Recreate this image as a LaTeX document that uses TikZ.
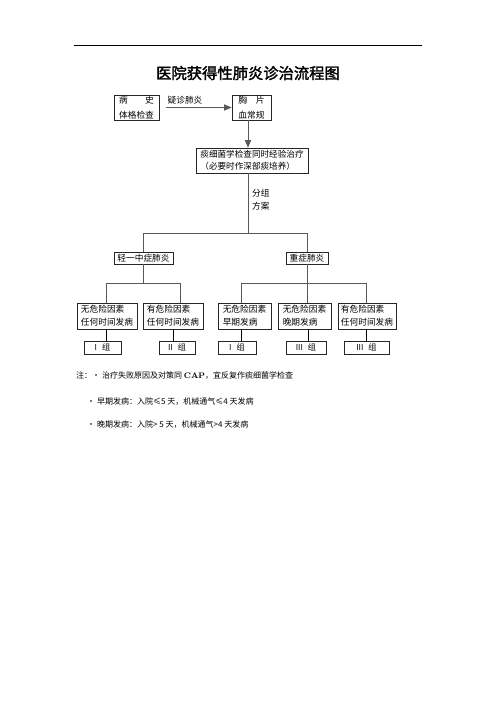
\documentclass[tikz,border=0pt]{standalone}
\usepackage{fontspec}
\newfontfamily\cjk{Noto Sans CJK SC}
\newfontfamily\cjkbf[FakeBold=2]{Noto Sans CJK SC}
\usetikzlibrary{arrows}

\begin{document}
\begin{tikzpicture}[x=1pt, y=-1pt,
	box/.style={draw=black!85, line width=0.7pt, inner sep=1pt, align=left, font=\cjk\fontsize{8.7}{13}\selectfont},
	groupe/.style={box, minimum height=13, inner sep=0.5pt, align=center, font=\cjk\fontsize{8.2}{9}\selectfont},
	lien/.style={draw=black!65, line width=0.7pt},
	note/.style={anchor=west, inner sep=0pt, font=\cjk\fontsize{8}{10}\selectfont}]
	\useasboundingbox (0,0) rectangle (496,702);
	% filet et titre
	\draw[line width=0.8pt] (74,45)--(422,45);
	\node (titre) at (248,73) {\cjkbf\fontsize{15.3}{18}\selectfont 医院获得性肺炎诊治流程图};
	% dessin des boites
	\node[box, minimum width=45, minimum height=25] (bs) at (136.5,107.5) {病\hspace{2em}史\\[2pt]体格检查};
	\node[box, minimum width=39, minimum height=25] (xp) at (251.5,107.5) {胸\hspace{1em}片\\[2pt]血常规};
	\node[box, minimum width=112, minimum height=25, font=\cjk\fontsize{8.6}{12}\selectfont] (tj) at (252,160.5) {痰细菌学检查同时经验治疗\\（必要时作深部痰培养）};
	\node[box, minimum width=59, minimum height=12, inner sep=0.5pt] (qz) at (143.5,258) {轻一中症肺炎};
	\node[box, minimum width=42, minimum height=12, inner sep=0.5pt] (zz) at (307,258) {重症肺炎};
	\node[box, minimum width=60, minimum height=26] (b1) at (107,316) {无危险因素\\任何时间发病};
	\node[box, minimum width=60, minimum height=26] (b2) at (173,316) {有危险因素\\任何时间发病};
	\node[box, minimum width=53, minimum height=26] (b3) at (244.5,316) {无危险因素\\早期发病\hspace{2em}};
	\node[box, minimum width=53, minimum height=26] (b4) at (304.5,316) {无危险因素\\晚期发病\hspace{2em}};
	\node[box, minimum width=58, minimum height=26] (b5) at (367,316) {有危险因素\\任何时间发病};
	\node[groupe, minimum width=37] (g1) at (102.5,347.5) {I\hspace{0.6em}组};
	\node[groupe, minimum width=36] (g2) at (177,347.5) {II\hspace{0.6em}组};
	\node[groupe, minimum width=38] (g3) at (237,347.5) {I\hspace{0.6em}组};
	\node[groupe, minimum width=40] (g4) at (306,347.5) {III\hspace{0.6em}组};
	\node[groupe, minimum width=45] (g5) at (366.5,347.5) {III\hspace{0.6em}组};
	% fleches et traits
	\draw[lien, -triangle 45, shorten <=7pt] (bs)--(xp);
	\node[font=\cjk\fontsize{8.7}{10}\selectfont] (yz) at (185,100) {疑诊肺炎};
	\coordinate (axe) at (248,0);
	\draw[lien, -triangle 45] (axe |- xp.south)--(axe |- tj.north);
	\coordinate (fourche) at (248,233);
	\draw[lien] (axe |- tj.south)--(fourche);
	\node[anchor=west, align=left, inner sep=0pt, font=\cjk\fontsize{8.7}{13}\selectfont] (fz) at (252,199.5) {分组\\方案};
	\draw[lien] (qz.north)--(qz.north |- fourche)--(zz.north |- fourche)--(zz.north);
	\coordinate (k1) at (106,283);
	\coordinate (k2) at (180,283);
	\coordinate (k3) at (241,283);
	\coordinate (k5) at (366,283);
	\draw[lien] (qz.south)--(qz.south |- k1);
	\draw[lien] (k1 |- b1.north)--(k1)--(k2)--(k2 |- b2.north);
	\draw[lien] (zz.south)--(zz.south |- k3);
	\draw[lien] (k3 |- b3.north)--(k3)--(k5)--(k5 |- b5.north);
	\draw[lien] (zz.south |- k3)--(zz.south |- b4.north);
	\draw (k1 |- b1.south)--(k1 |- g1.north);
	\draw (b2.south)--(b2.south |- g2.north);
	\draw (k3 |- b3.south)--(k3 |- g3.north);
	\draw (308,0 |- b4.south)--(308,0 |- g4.north);
	\draw (k5 |- b5.south)--(k5 |- g5.north);
	% notes
	\node[note] (n1) at (76,376) {注：·\hspace{2pt}治疗失败原因及对策同 {\rmfamily\bfseries CAP}，宜反复作痰细菌学检查};
	\node[note] (n2) at (87,402) {·\hspace{2pt}早期发病：入院≤5 天，机械通气≤4 天发病};
	\node[note] (n3) at (87,425) {·\hspace{2pt}晚期发病：入院> 5 天，机械通气>4 天发病};
\end{tikzpicture}
\end{document}
